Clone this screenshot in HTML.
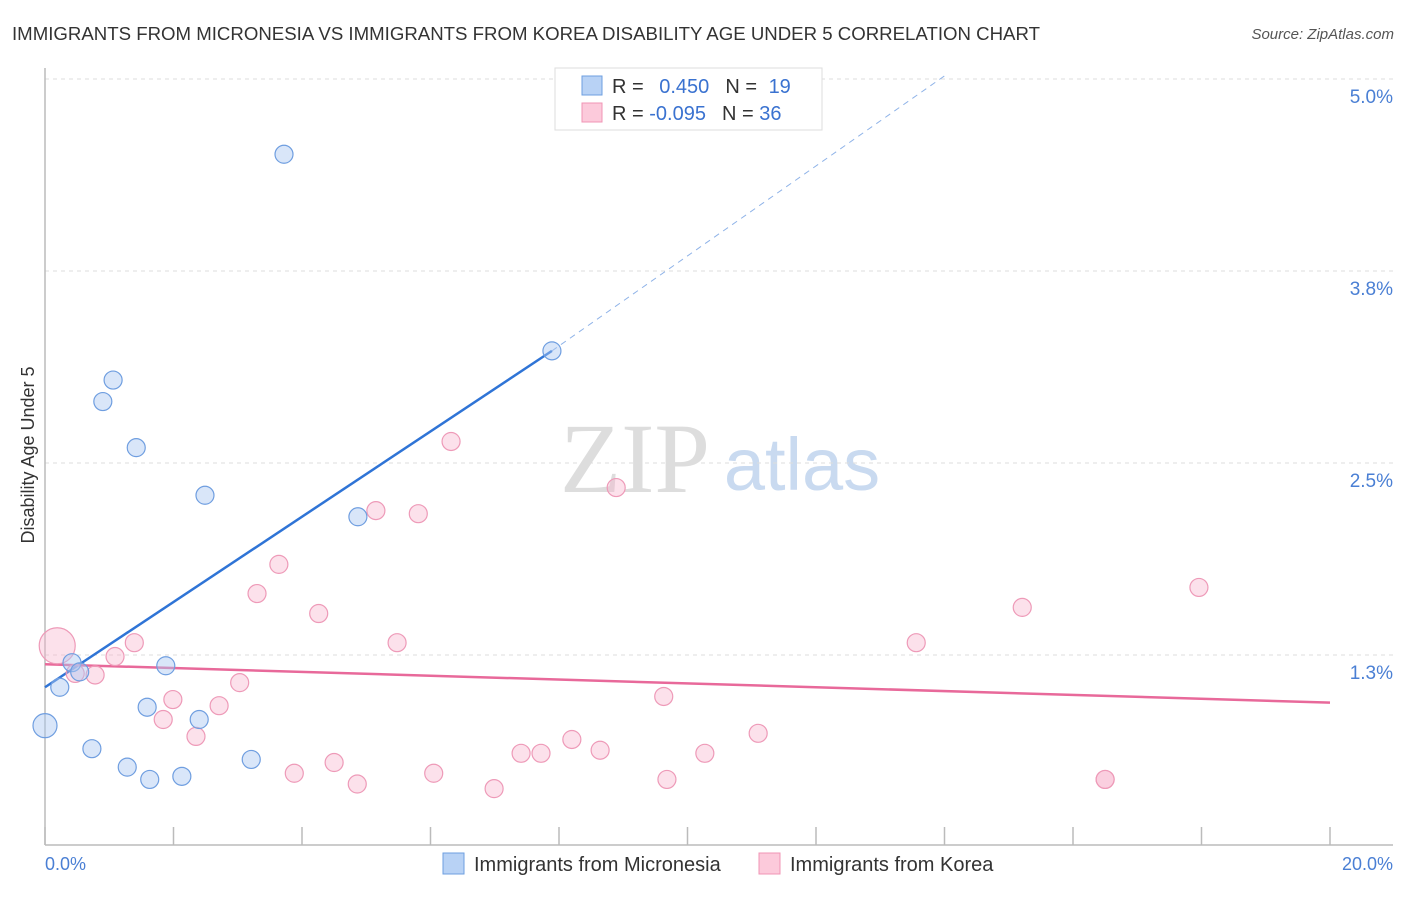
<!DOCTYPE html>
<html><head><meta charset="utf-8"><style>
body{margin:0;background:#fff;font-family:"Liberation Sans",sans-serif;}
</style></head><body>
<svg width="1406" height="892" xmlns="http://www.w3.org/2000/svg" font-family="Liberation Sans, sans-serif">
<text x="12" y="40" font-size="18" fill="#333" textLength="1028" lengthAdjust="spacingAndGlyphs">IMMIGRANTS FROM MICRONESIA VS IMMIGRANTS FROM KOREA DISABILITY AGE UNDER 5 CORRELATION CHART</text>
<text x="1394" y="39" font-size="15" fill="#555" font-style="italic" text-anchor="end">Source: ZipAtlas.com</text>
<g>
<text x="635" y="492" font-size="100" fill="#ddd" text-anchor="middle" font-family="Liberation Serif, serif">ZIP</text>
<text x="802" y="490" font-size="74" fill="#c9daf0" text-anchor="middle">atlas</text>
</g>
<g id="grid"></g>
<g id="axes"></g>
<g id="trends"></g>
<g id="points"></g>
<text x="34" y="455" font-size="18" fill="#333" text-anchor="middle" transform="rotate(-90 34 455)">Disability Age Under 5</text>
<text x="45" y="870" font-size="18" fill="#4a7fd4">0.0%</text>
<text x="1393" y="870" font-size="18" fill="#4a7fd4" text-anchor="end">20.0%</text>
<g>
<rect x="555" y="68" width="267" height="62" fill="#fff" stroke="#ddd"/>
<rect x="582" y="76" width="20" height="19" fill="#b8d2f5" stroke="#6e9fe0"/>
<rect x="582" y="103" width="20" height="19" fill="#fccadb" stroke="#f094b4"/>
<text x="612" y="93" font-size="20" fill="#333">R = <tspan fill="#3a72d0" dx="10">0.450</tspan><tspan dx="16">N = </tspan><tspan fill="#3a72d0" dx="6">19</tspan></text>
<text x="612" y="120" font-size="20" fill="#333">R = <tspan fill="#3a72d0">-0.095</tspan><tspan dx="16">N = </tspan><tspan fill="#3a72d0">36</tspan></text>
</g>
<g>
<rect x="443" y="853" width="21" height="21" fill="#b8d2f5" stroke="#6e9fe0"/>
<text x="474" y="871" font-size="20" fill="#333">Immigrants from Micronesia</text>
<rect x="759" y="853" width="21" height="21" fill="#fccadb" stroke="#f094b4"/>
<text x="790" y="871" font-size="20" fill="#333">Immigrants from Korea</text>
</g>
</svg>
<script>
const yTicks=[1.25,2.5,3.75,5.0];
const yTickLabels=["1.3%","2.5%","3.8%","5.0%"];
const xTicks=[0,2,4,6,8,10,12,14,16,18,20];
const micronesiaX=[0,0.23,0.42,0.54,0.73,0.90,1.06,1.28,1.42,1.59,1.63,1.88,2.13,2.40,2.49,3.21,3.72,4.87,7.89];
const micronesiaY=[0.79,1.04,1.20,1.14,0.64,2.90,3.04,0.52,2.60,0.91,0.44,1.18,0.46,0.83,2.29,0.57,4.51,2.15,3.23];
const micronesiaR=[12,9,9,9,9,9,9,9,9,9,9,9,9,9,9,9,9,9,9];
const koreaX=[0.19,0.47,0.78,1.09,1.39,1.84,1.99,2.35,2.71,3.03,3.30,3.64,3.88,4.26,4.50,4.86,5.15,5.48,5.81,6.05,6.32,6.99,7.41,7.72,8.20,8.64,8.89,9.63,9.68,10.27,11.10,13.56,15.21,16.50,16.50,17.96];
const koreaY=[1.31,1.13,1.12,1.24,1.33,0.83,0.96,0.72,0.92,1.07,1.65,1.84,0.48,1.52,0.55,0.41,2.19,1.33,2.17,0.48,2.64,0.38,0.61,0.61,0.70,0.63,2.34,0.98,0.44,0.61,0.74,1.33,1.56,0.44,0.44,1.69];
const koreaR=[18,9,9,9,9,9,9,9,9,9,9,9,9,9,9,9,9,9,9,9,9,9,9,9,9,9,9,9,9,9,9,9,9,9,9,9];
const blueTrend=[[0,1.04],[7.89,3.23]];
const blueDash=[[7.89,3.23],[14.0,5.02]];
const pinkTrend=[[0,1.19],[20,0.94]];
const NS="http://www.w3.org/2000/svg";
const sx=v=>45+v*64.25;
const sy=v=>847-v*153.6;
function mk(tag,attrs,parent){const e=document.createElementNS(NS,tag);for(const k in attrs)e.setAttribute(k,attrs[k]);document.getElementById(parent).appendChild(e);return e;}
yTicks.forEach((t,i)=>{
 const l=mk('line',{x1:45,x2:1393,y1:sy(t),y2:sy(t),stroke:'#ddd','stroke-dasharray':'4,4'},'grid');
 
 
 const tx=mk('text',{x:1393,y:sy(t)+24,'font-size':19,fill:'#4a7fd4','text-anchor':'end'},'grid');
 tx.textContent=yTickLabels[i];
 
 
});
const ya=mk('line',{x1:45,x2:45,y1:68,y2:845,stroke:'#bbb','stroke-width':1.5},'axes');


const xa=mk('line',{x1:45,x2:1393,y1:845,y2:845,stroke:'#bbb','stroke-width':1.5},'axes');


xTicks.forEach(t=>{
 const l=mk('line',{x1:sx(t),x2:sx(t),y1:827,y2:845,stroke:'#bbb','stroke-width':1.5},'axes');
 
 
});
function line(p,attrs,name){const l=mk('line',Object.assign({x1:sx(p[0][0]),y1:sy(p[0][1]),x2:sx(p[1][0]),y2:sy(p[1][1])},attrs),'trends');
 
 }
line(blueTrend,{stroke:'#2f74d6','stroke-width':2.5},'micronesia-trend-line');
line(blueDash,{stroke:'#8fb3e8','stroke-width':1,'stroke-dasharray':'6,5'},'micronesia-trend-extension');
line(pinkTrend,{stroke:'#e8699a','stroke-width':2.5},'korea-trend-line');
koreaX.forEach((x,i)=>{
 const c=mk('circle',{cx:sx(x),cy:sy(koreaY[i]),r:koreaR[i],fill:'rgba(248,180,205,0.4)',stroke:'#ee9ab8','stroke-width':1.2},'points');
 
 
});
micronesiaX.forEach((x,i)=>{
 const c=mk('circle',{cx:sx(x),cy:sy(micronesiaY[i]),r:micronesiaR[i],fill:'rgba(170,200,242,0.45)',stroke:'#6f9ee0','stroke-width':1.2},'points');
 
 
});
</script>
</body></html>
